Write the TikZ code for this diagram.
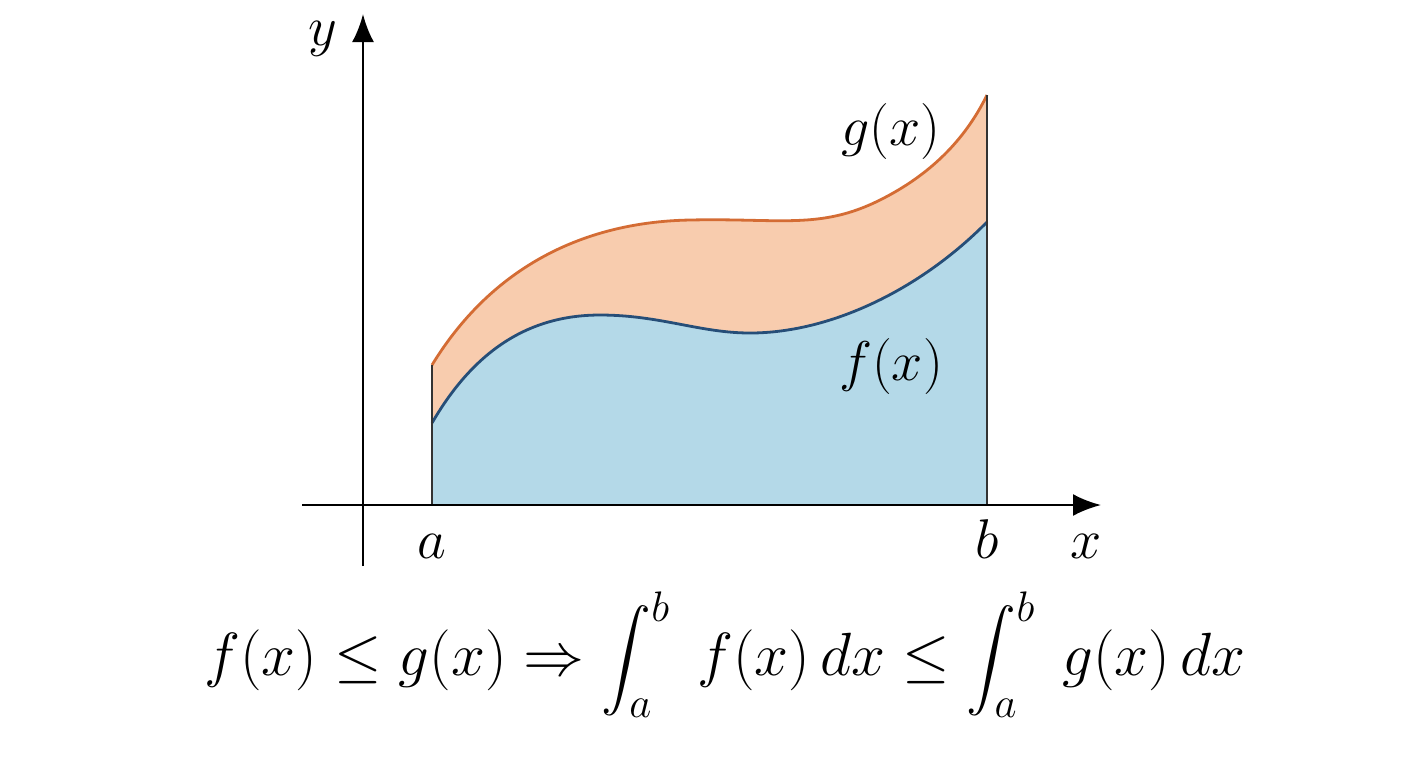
\RequirePackage{fix-cm}
\documentclass[tikz,border=0pt]{standalone}
\usepackage{amsmath}
\usetikzlibrary{arrows.meta}
\definecolor{gline}{RGB}{212,108,52}
\definecolor{gfill}{RGB}{248,204,174}
\definecolor{fline}{RGB}{38,78,120}
\definecolor{ffill}{RGB}{180,217,232}
\tikzset{
  axis/.style={line width=1.3pt,-{Latex[length=14pt,width=11pt]}},
  lab/.style={anchor=base,inner sep=0pt,font=\fontsize{28}{32}\selectfont},
}
\begin{document}
\begin{tikzpicture}[x=0.5pt,y=-0.5pt]
\useasboundingbox (0,0) rectangle (1408,768);
\def\gpath{(432,365) .. controls (490,270) and (580,222) .. (690,220) .. controls (780,218) and (820,230) .. (880,200) .. controls (930,175) and (965,140) .. (987,95)}
\def\fpath{(432,423) .. controls (480,340) and (540,315) .. (600,315) .. controls (660,315) and (700,333) .. (750,333) .. controls (830,333) and (920,290) .. (987,222)}
% fills
\fill[gfill] \gpath -- (987,505) -- (432,505) -- cycle;
\fill[ffill] \fpath -- (987,505) -- (432,505) -- cycle;
% curves
\draw[gline,line width=1.4pt] \gpath;
\draw[fline,line width=1.4pt] \fpath;
% vertical bounds
\coordinate (a0) at (432,505); \coordinate (a1) at (432,365);
\coordinate (b0) at (987,505); \coordinate (b1) at (987,95);
\draw[line width=0.9pt,black!80] (a0) -- (a1);
\draw[line width=0.9pt,black!80] (b0) -- (b1);
% axes
\coordinate (xs) at (302,505); \coordinate (xe) at (1101,505);
\coordinate (ys) at (363,566); \coordinate (ye) at (363,14);
\draw[axis] (xs) -- (xe);
\draw[axis] (ys) -- (ye);
% labels
\node[lab] (ly) at (323,45) {$y$};
\node[lab] (lx) at (1086,558) {$x$};
\node[lab] (la) at (432,558) {$a$};
\node[lab] (lb) at (987,558) {$b$};
\node[lab] (lg) at (891,145) {$g(x)$};
\node[lab] (lf) at (891,380) {$f(x)$};
\node[inner sep=0pt,font=\fontsize{30.5}{36}\selectfont] (eq) at (725,655)
  {$\displaystyle f(x)\le g(x)\Rightarrow\int_a^b\;f(x)\,dx\le\int_a^b\;g(x)\,dx$};
\end{tikzpicture}
\end{document}
